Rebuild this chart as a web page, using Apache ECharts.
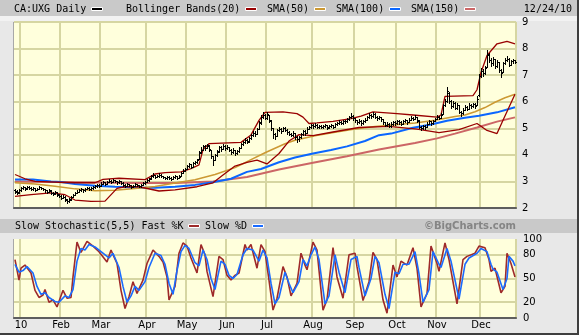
<!DOCTYPE html>
<html>
<head>
<meta charset="utf-8">
<title>CA:UXG Daily</title>
<script src="https://cdn.jsdelivr.net/npm/echarts@6.0.0/dist/echarts.min.js"></script>
<style>
  html, body { margin: 0; padding: 0; background: #e8e8e8; }
  #chart { width: 579px; height: 335px; }
</style>
</head>
<body>
<div id="chart"></div>
<script>
// ---- Calendar: trading sessions per month (Dec 2009 tail .. Dec 24 2010) ----
const monthLabels = ['', '10', 'Feb', 'Mar', 'Apr', 'May', 'Jun', 'Jul', 'Aug', 'Sep', 'Oct', 'Nov', 'Dec'];
const sessionsPerMonth = [3, 20, 20, 23, 20, 20, 20, 23, 21, 21, 20, 22, 18];

// ---- Axis ticks ----
const priceTicks = [2, 3, 4, 5, 6, 7, 8, 9];
const stochLabels = [0, 20, 50, 80, 100];
const stochGrid = [20, 50, 80];

// ---- Daily price bars (one entry per session) ----
const opens = [
  2.66,2.64,2.60,2.68,2.76,2.78,2.74,2.80,2.74,2.70,
  2.74,2.68,2.72,2.78,2.74,2.70,2.66,2.62,2.64,2.58,
  2.54,2.60,2.50,2.44,2.38,2.42,2.30,2.26,2.32,2.42,
  2.50,2.58,2.62,2.66,2.70,2.66,2.72,2.76,2.70,2.74,
  2.78,2.82,2.88,2.84,2.92,2.96,2.92,2.98,3.02,2.98,
  3.04,3.00,2.96,3.00,2.94,2.88,2.84,2.90,2.86,2.80,
  2.84,2.90,2.86,2.82,2.88,2.94,2.98,3.04,3.12,3.20,
  3.24,3.18,3.22,3.26,3.20,3.16,3.12,3.18,3.14,3.10,
  3.16,3.20,3.14,3.20,3.32,3.40,3.48,3.58,3.64,3.56,
  3.68,3.72,3.86,4.10,4.20,4.32,4.26,4.34,4.18,3.94,
  3.82,3.98,4.14,4.28,4.22,4.34,4.26,4.30,4.20,4.10,
  4.18,4.06,4.14,4.26,4.40,4.48,4.56,4.52,4.62,4.74,
  4.82,4.80,4.98,5.22,5.42,5.50,5.40,5.50,5.28,5.00,
  4.80,4.72,4.92,4.98,4.88,5.00,4.94,4.86,4.78,4.76,
  4.82,4.66,4.58,4.66,4.78,4.88,4.84,4.98,5.04,5.12,
  5.08,5.14,5.06,5.10,5.04,5.08,5.12,5.04,5.08,5.12,
  5.06,5.16,5.20,5.24,5.20,5.28,5.26,5.34,5.42,5.46,
  5.38,5.30,5.24,5.28,5.20,5.26,5.32,5.42,5.50,5.46,
  5.54,5.44,5.38,5.42,5.34,5.22,5.14,5.18,5.10,5.16,
  5.24,5.20,5.28,5.22,5.18,5.26,5.30,5.24,5.32,5.40,
  5.36,5.44,5.28,5.06,5.00,5.10,5.06,5.18,5.26,5.20,
  5.28,5.36,5.44,5.40,5.54,5.88,6.04,6.34,6.02,5.84,
  5.96,5.78,5.86,5.62,5.56,5.70,5.80,5.74,5.88,5.82,
  5.90,5.86,6.24,6.98,7.16,7.08,7.32,7.76,7.56,7.44,
  7.60,7.36,7.48,7.20,7.12,7.44,7.58,7.62,7.40,7.52,
  7.56
];
const highs = [
  2.70,2.66,2.70,2.78,2.84,2.80,2.84,2.82,2.78,2.78,
  2.76,2.76,2.82,2.80,2.76,2.72,2.68,2.70,2.66,2.62,
  2.64,2.60,2.54,2.48,2.48,2.44,2.34,2.36,2.44,2.54,
  2.62,2.68,2.70,2.76,2.72,2.76,2.80,2.78,2.78,2.82,
  2.86,2.92,2.90,2.96,3.00,2.98,3.02,3.08,3.04,3.08,
  3.06,3.02,3.06,3.02,2.96,2.90,2.94,2.92,2.88,2.88,
  2.94,2.92,2.88,2.92,2.98,3.02,3.08,3.14,3.24,3.30,
  3.26,3.26,3.30,3.28,3.22,3.18,3.22,3.20,3.16,3.20,
  3.24,3.22,3.24,3.36,3.46,3.52,3.62,3.70,3.66,3.72,
  3.78,3.86,4.14,4.28,4.38,4.36,4.42,4.36,4.20,3.96,
  4.04,4.18,4.32,4.32,4.40,4.36,4.36,4.30,4.22,4.24,
  4.18,4.20,4.28,4.44,4.54,4.62,4.60,4.66,4.80,4.88,
  4.88,5.02,5.26,5.50,5.62,5.54,5.60,5.50,5.30,5.02,
  4.84,4.98,5.04,5.00,5.06,5.04,4.96,4.90,4.84,4.88,
  4.84,4.70,4.72,4.84,4.94,4.92,5.04,5.10,5.18,5.16,
  5.20,5.16,5.14,5.12,5.12,5.16,5.12,5.12,5.16,5.14,
  5.20,5.24,5.30,5.28,5.32,5.32,5.40,5.48,5.56,5.50,
  5.40,5.32,5.34,5.30,5.30,5.38,5.48,5.58,5.54,5.60,
  5.56,5.46,5.48,5.44,5.36,5.24,5.24,5.20,5.22,5.28,
  5.28,5.32,5.30,5.26,5.30,5.36,5.32,5.38,5.46,5.44,
  5.50,5.44,5.30,5.10,5.14,5.12,5.22,5.30,5.28,5.32,
  5.40,5.50,5.48,5.56,5.92,6.10,6.56,6.36,6.06,6.02,
  5.98,5.94,5.88,5.66,5.76,5.86,5.84,5.94,5.92,5.96,
  5.94,6.20,7.06,7.28,7.22,7.36,7.96,7.82,7.64,7.70,
  7.62,7.56,7.48,7.24,7.50,7.66,7.72,7.64,7.58,7.62,
  7.58
];
const lows = [
  2.56,2.54,2.58,2.64,2.72,2.68,2.72,2.72,2.66,2.68,
  2.64,2.66,2.70,2.70,2.66,2.62,2.58,2.60,2.54,2.50,
  2.52,2.46,2.40,2.34,2.36,2.28,2.18,2.22,2.30,2.40,
  2.48,2.56,2.60,2.64,2.62,2.64,2.70,2.66,2.68,2.72,
  2.76,2.80,2.80,2.84,2.90,2.86,2.90,2.96,2.94,2.96,
  2.96,2.92,2.94,2.90,2.84,2.80,2.82,2.82,2.76,2.78,
  2.82,2.82,2.78,2.80,2.86,2.92,2.96,3.02,3.10,3.16,
  3.14,3.16,3.18,3.16,3.12,3.08,3.10,3.10,3.04,3.08,
  3.14,3.10,3.12,3.20,3.30,3.38,3.46,3.56,3.50,3.54,
  3.64,3.70,3.84,4.06,4.18,4.20,4.24,4.16,3.88,3.62,
  3.80,3.96,4.12,4.16,4.22,4.20,4.22,4.14,4.04,4.08,
  4.00,4.04,4.12,4.24,4.38,4.46,4.44,4.50,4.60,4.72,
  4.72,4.78,4.96,5.18,5.38,5.34,5.36,5.24,4.94,4.62,
  4.58,4.70,4.88,4.82,4.88,4.88,4.80,4.74,4.70,4.72,
  4.60,4.50,4.54,4.64,4.76,4.76,4.82,4.96,5.02,5.02,
  5.06,5.00,5.02,5.00,5.00,5.04,4.98,5.00,5.04,5.02,
  5.04,5.12,5.16,5.16,5.18,5.20,5.24,5.32,5.40,5.32,
  5.24,5.18,5.20,5.14,5.16,5.22,5.30,5.40,5.40,5.42,
  5.38,5.32,5.34,5.28,5.16,5.08,5.10,5.04,5.06,5.12,
  5.14,5.18,5.16,5.12,5.16,5.22,5.18,5.22,5.30,5.30,
  5.34,5.24,5.00,4.92,4.98,4.98,5.04,5.16,5.14,5.18,
  5.26,5.34,5.34,5.38,5.52,5.84,6.00,5.96,5.76,5.80,
  5.72,5.74,5.56,5.48,5.54,5.68,5.68,5.74,5.76,5.80,
  5.78,5.86,6.20,6.92,6.98,7.04,7.30,7.48,7.34,7.40,
  7.28,7.32,7.10,6.94,7.10,7.42,7.52,7.34,7.38,7.46,
  7.44
];
const closes = [
  2.62,2.58,2.66,2.74,2.78,2.72,2.80,2.76,2.70,2.74,
  2.68,2.72,2.78,2.75,2.70,2.66,2.62,2.66,2.58,2.55,
  2.60,2.52,2.45,2.38,2.42,2.32,2.25,2.30,2.40,2.50,
  2.58,2.62,2.66,2.70,2.66,2.72,2.76,2.70,2.74,2.78,
  2.82,2.88,2.84,2.92,2.96,2.90,2.98,3.02,2.98,3.04,
  3.00,2.96,3.02,2.94,2.88,2.84,2.90,2.86,2.80,2.84,
  2.90,2.86,2.82,2.88,2.94,2.98,3.04,3.10,3.20,3.24,
  3.18,3.22,3.26,3.20,3.16,3.12,3.18,3.14,3.10,3.16,
  3.20,3.14,3.18,3.32,3.40,3.46,3.58,3.64,3.56,3.68,
  3.72,3.80,4.08,4.20,4.32,4.26,4.36,4.22,3.95,3.80,
  3.98,4.12,4.28,4.22,4.34,4.26,4.30,4.20,4.10,4.18,
  4.06,4.14,4.24,4.40,4.48,4.56,4.50,4.62,4.74,4.82,
  4.78,4.96,5.20,5.42,5.50,5.40,5.52,5.30,5.00,4.80,
  4.70,4.92,4.98,4.88,5.00,4.94,4.86,4.80,4.76,4.84,
  4.66,4.58,4.66,4.78,4.88,4.82,4.98,5.04,5.12,5.08,
  5.14,5.06,5.10,5.04,5.08,5.12,5.02,5.08,5.12,5.06,
  5.16,5.20,5.24,5.20,5.28,5.26,5.34,5.42,5.48,5.38,
  5.30,5.24,5.28,5.20,5.26,5.32,5.42,5.50,5.46,5.54,
  5.44,5.38,5.42,5.34,5.22,5.14,5.18,5.10,5.16,5.24,
  5.20,5.28,5.22,5.18,5.26,5.30,5.24,5.32,5.40,5.36,
  5.44,5.30,5.06,5.00,5.10,5.04,5.18,5.26,5.20,5.28,
  5.36,5.44,5.40,5.50,5.86,6.02,6.42,6.04,5.84,5.96,
  5.78,5.88,5.62,5.56,5.70,5.80,5.74,5.88,5.82,5.90,
  5.84,6.12,6.96,7.16,7.08,7.26,7.78,7.56,7.44,7.60,
  7.36,7.50,7.20,7.08,7.44,7.58,7.62,7.40,7.52,7.56,
  7.48
];

// ---- Overlays: [session index, value] ----
const bbUpper = [[0,3.26],[5,3.10],[10,3.00],[22,2.97],[30,2.95],[40,2.95],[44,3.08],[52,3.12],[65,3.07],[70,3.28],[75,3.33],[83,3.36],[88,3.48],[92,3.62],[94,4.20],[97,4.42],[113,4.47],[118,4.75],[122,5.30],[125,5.60],[134,5.62],[141,5.55],[144,5.42],[147,5.18],[151,5.20],[159,5.26],[168,5.36],[173,5.46],[179,5.62],[191,5.55],[199,5.50],[211,5.42],[213,5.50],[215,6.20],[229,6.23],[231,6.45],[233,7.10],[236,7.74],[241,8.18],[246,8.27],[250,8.18]];
const bbLower = [[0,2.44],[8,2.50],[18,2.57],[25,2.50],[30,2.30],[38,2.25],[45,2.26],[51,2.74],[55,2.80],[62,2.80],[72,2.64],[80,2.68],[91,2.80],[99,2.95],[104,3.24],[110,3.58],[116,3.72],[121,3.80],[126,3.66],[132,4.05],[137,4.52],[142,4.76],[149,4.72],[159,4.86],[172,5.03],[187,5.07],[201,4.97],[212,4.84],[222,4.95],[231,5.18],[236,4.92],[241,4.80],[244,5.30],[250,6.28]];
const sma50 = [[0,2.95],[10,2.90],[20,2.82],[30,2.72],[40,2.65],[50,2.67],[60,2.73],[70,2.81],[80,2.94],[90,3.06],[100,3.26],[110,3.52],[117,3.78],[125,4.08],[130,4.25],[135,4.42],[140,4.55],[150,4.72],[160,4.85],[170,4.97],[180,5.07],[190,5.13],[200,5.20],[210,5.30],[220,5.44],[225,5.50],[230,5.62],[235,5.78],[240,5.98],[245,6.15],[250,6.28]];
const sma100 = [[0,3.07],[9,3.07],[18,3.00],[23,2.98],[30,2.90],[40,2.84],[50,2.80],[60,2.77],[70,2.76],[80,2.80],[90,2.87],[99,2.97],[108,3.10],[116,3.36],[123,3.47],[132,3.72],[140,3.90],[149,4.05],[158,4.18],[166,4.32],[175,4.52],[182,4.74],[188,4.80],[199,5.02],[208,5.14],[216,5.28],[225,5.40],[232,5.47],[241,5.60],[250,5.79]];
const sma150 = [[0,3.00],[20,2.98],[40,2.96],[60,2.94],[80,2.94],[99,3.00],[116,3.17],[132,3.45],[149,3.70],[166,3.95],[182,4.20],[200,4.45],[211,4.62],[220,4.80],[231,5.03],[241,5.25],[250,5.41]];

// ---- Slow stochastic (5,5) ----
const fastK = [[0,74],[2,48],[3,63],[5,67],[8,57],[10,35],[12,26],[14,29],[15,36],[17,20],[19,23],[21,14],[24,35],[26,25],[28,26],[29,52],[31,96],[33,83],[34,84],[36,97],[39,91],[42,84],[46,71],[48,86],[51,69],[53,35],[55,12],[57,27],[59,46],[61,31],[62,37],[64,48],[66,69],[69,86],[72,78],[74,71],[76,52],[77,23],[80,40],[82,82],[84,95],[86,91],[88,76],[91,57],[93,93],[95,80],[96,59],[99,27],[102,78],[104,74],[106,54],[108,48],[110,54],[112,57],[115,93],[116,86],[118,93],[121,63],[123,93],[125,84],[127,48],[129,10],[131,25],[134,65],[136,52],[138,28],[141,44],[143,82],[145,67],[146,61],[149,96],[151,86],[154,10],[156,23],[159,89],[161,52],[164,25],[167,80],[170,82],[171,65],[174,22],[177,46],[179,83],[181,74],[184,23],[186,6],[189,67],[191,52],[193,72],[196,67],[199,89],[201,63],[203,14],[206,31],[208,91],[211,69],[212,59],[215,95],[217,74],[221,18],[224,74],[226,78],[230,82],[232,91],[235,89],[237,74],[238,59],[240,63],[243,32],[245,40],[246,82],[248,69],[250,52]];
const slowD = [[0,68],[2,58],[4,60],[6,65],[9,57],[11,40],[13,30],[15,32],[17,26],[20,21],[22,20],[25,28],[27,26],[29,36],[31,72],[33,88],[35,86],[37,93],[40,90],[43,84],[47,76],[49,82],[52,64],[54,40],[56,20],[58,28],[60,40],[62,35],[65,46],[67,64],[70,82],[73,79],[75,68],[77,44],[79,30],[81,60],[83,84],[85,92],[87,88],[90,70],[92,66],[94,86],[96,74],[98,50],[100,36],[103,72],[105,68],[107,54],[109,50],[111,55],[114,80],[116,88],[119,86],[122,72],[124,86],[126,76],[128,44],[130,18],[132,26],[135,58],[137,44],[139,32],[142,46],[144,74],[146,66],[148,80],[150,90],[152,74],[155,18],[157,28],[160,80],[162,58],[165,32],[168,74],[171,78],[172,64],[175,28],[178,50],[180,78],[182,70],[185,30],[187,12],[190,58],[192,56],[194,68],[197,68],[200,84],[202,56],[204,20],[207,36],[209,84],[212,68],[213,64],[216,88],[218,72],[222,24],[225,68],[227,76],[231,82],[233,88],[236,84],[238,68],[239,62],[241,58],[244,36],[246,50],[247,78],[249,72],[250,66]];

// ---- Build session categories and month markers ----
const sessions = [];
const monthStartLabel = {};
monthLabels.forEach((label, m) => {
  for (let k = 0; k < sessionsPerMonth[m]; k++) {
    if (k === 0 && label) monthStartLabel[sessions.length] = label;
    sessions.push(m + '-' + (k + 1));
  }
});
const isMonthStart = (idx) => Object.prototype.hasOwnProperty.call(monthStartLabel, idx);

const bars = closes.map((c, i) => [i, opens[i], highs[i], lows[i], c]);

// ---- Styling ----
const plotBg = '#FFFFDC';
const gridColor = '#D6D6A2';
const stochTickValues = [];
for (let v = stochLabels[0]; v <= stochLabels[stochLabels.length - 1]; v += 10) stochTickValues.push(v);
const stochLineColors = stochTickValues.map(v => stochGrid.includes(v) ? gridColor : 'rgba(0,0,0,0)');

const monoFont = '10px "DejaVu Sans Mono"';
const labelFont = '10px "DejaVu Sans"';
const axisFont = { color: '#000', fontSize: 10, fontFamily: 'DejaVu Sans' };

const overlay = (data, color, width, idx, z) => ({
  type: 'line', xAxisIndex: idx, yAxisIndex: idx, data: data,
  showSymbol: false, symbol: 'none', silent: true, z: z,
  lineStyle: { color: color, width: width }
});

function headerText(x, y, text) {
  return { type: 'text', x: x, y: y, silent: true,
    style: { text: text, font: monoFont, fill: '#000', verticalAlign: 'middle', align: 'left' } };
}
function swatch(x, y, color) {
  return { type: 'rect', silent: true, shape: { x: x + 0.5, y: y + 0.5, width: 11, height: 3 },
    style: { fill: color, stroke: '#ffffff', lineWidth: 1 } };
}

// OHLC bar: high-low stem, open tick to the left, close tick to the right
function renderBar(params, api) {
  const i = api.value(0);
  const open = api.coord([i, api.value(1)]);
  const top = api.coord([i, api.value(2)]);
  const bottom = api.coord([i, api.value(3)]);
  const close = api.coord([i, api.value(4)]);
  const cx = Math.floor(top[0]) + 0.5;
  const oy = Math.round(open[1]) + 0.5;
  const cy = Math.round(close[1]) + 0.5;
  const stroke = { stroke: '#000', lineWidth: 1 };
  return {
    type: 'group',
    children: [
      { type: 'line', shape: { x1: cx, y1: Math.round(top[1]), x2: cx, y2: Math.round(bottom[1]) + 1 }, style: stroke },
      { type: 'line', shape: { x1: cx - 1.5, y1: oy, x2: cx, y2: oy }, style: stroke },
      { type: 'line', shape: { x1: cx, y1: cy, x2: cx + 1.5, y2: cy }, style: stroke }
    ]
  };
}

const frameGraphics = [
  // title bands
  { type: 'rect', silent: true, shape: { x: 0, y: 0, width: 577, height: 16 }, style: { fill: '#C9C9C9' } },
  { type: 'rect', silent: true, shape: { x: 0, y: 16, width: 577, height: 5 }, style: { fill: '#F2F2F2' } },
  { type: 'rect', silent: true, shape: { x: 0, y: 219, width: 577, height: 14 }, style: { fill: '#C9C9C9' } },
  // frame shadow on the right and bottom
  { type: 'rect', silent: true, shape: { x: 577, y: 0, width: 2, height: 335 }, style: { fill: '#3E3E3E' } },
  { type: 'rect', silent: true, shape: { x: 0, y: 333, width: 579, height: 2 }, style: { fill: '#3E3E3E' } },
  // plot side borders
  { type: 'line', silent: true, shape: { x1: 13.5, y1: 22, x2: 13.5, y2: 209 }, style: { stroke: '#A8A8A8', lineWidth: 1 } },
  { type: 'line', silent: true, shape: { x1: 516.5, y1: 22, x2: 516.5, y2: 209 }, style: { stroke: '#B4B4B4', lineWidth: 1 } },
  { type: 'line', silent: true, shape: { x1: 13.5, y1: 239, x2: 13.5, y2: 319 }, style: { stroke: '#A8A8A8', lineWidth: 1 } },
  { type: 'line', silent: true, shape: { x1: 516.5, y1: 239, x2: 516.5, y2: 319 }, style: { stroke: '#B4B4B4', lineWidth: 1 } },
  // price panel legend
  headerText(14, 9, 'CA:UXG Daily'),
  swatch(91, 7, '#000000'),
  headerText(126, 9, 'Bollinger Bands(20)'),
  swatch(245, 7, '#990000'),
  headerText(267, 9, 'SMA(50)'),
  swatch(314, 7, '#CC9933'),
  headerText(336, 9, 'SMA(100)'),
  swatch(389, 7, '#0A66FF'),
  headerText(411, 9, 'SMA(150)'),
  swatch(464, 7, '#CC6666'),
  { type: 'text', x: 572, y: 9, silent: true,
    style: { text: '12/24/10', font: monoFont, fill: '#000', verticalAlign: 'middle', align: 'right' } },
  // stochastic panel legend
  headerText(15, 226, 'Slow Stochastic(5,5) Fast %K'),
  swatch(188, 224, '#9E2A2A'),
  headerText(205, 226, 'Slow %D'),
  swatch(252, 224, '#1A6BFF'),
  { type: 'text', x: 516, y: 226, silent: true,
    style: { text: '\u00A9BigCharts.com', font: 'bold 10px "DejaVu Sans"', fill: '#858585', verticalAlign: 'middle', align: 'right' } }
];

const chart = echarts.init(document.getElementById('chart'), null, { renderer: 'canvas', devicePixelRatio: 1 });

chart.setOption({
  animation: false,
  backgroundColor: '#E8E8E8',
  grid: [
    { left: 14, right: 63, top: 22, bottom: 127, show: true, backgroundColor: plotBg, borderWidth: 0, outerBoundsMode: 'none', containLabel: false },
    { left: 14, right: 63, top: 239, bottom: 17, show: true, backgroundColor: plotBg, borderWidth: 0, outerBoundsMode: 'none', containLabel: false }
  ],
  xAxis: [
    {
      type: 'category', gridIndex: 0, data: sessions, boundaryGap: true,
      axisLine: { show: true, lineStyle: { color: '#5E5E5E', width: 2 } },
      axisTick: { show: false }, axisLabel: { show: false },
      splitLine: { show: true, interval: isMonthStart, lineStyle: { color: gridColor, width: 2 } }
    },
    {
      type: 'category', gridIndex: 1, data: sessions, boundaryGap: true,
      axisLine: { show: true, lineStyle: { color: '#5E5E5E', width: 2 } },
      axisTick: { show: false },
      axisLabel: Object.assign({ show: true, interval: isMonthStart, margin: 2,
        formatter: (v, idx) => monthStartLabel[idx] || '' }, axisFont),
      splitLine: { show: true, interval: isMonthStart, lineStyle: { color: gridColor, width: 2 } }
    }
  ],
  yAxis: [
    {
      type: 'value', gridIndex: 0, position: 'right',
      min: priceTicks[0], max: priceTicks[priceTicks.length - 1], interval: 1,
      axisLine: { show: false }, axisTick: { show: false },
      axisLabel: Object.assign({ margin: 6 }, axisFont),
      splitLine: { show: true, lineStyle: { color: gridColor, width: 2 } }
    },
    {
      type: 'value', gridIndex: 1, position: 'right',
      min: stochLabels[0], max: stochLabels[stochLabels.length - 1], interval: 10,
      axisLine: { show: false }, axisTick: { show: false },
      axisLabel: { show: false },
      splitLine: { show: true, lineStyle: { color: stochLineColors, width: 2 } }
    }
  ],
  series: [
    overlay(sma150, '#CC6666', 2, 0, 2),
    overlay(sma100, '#0A66FF', 2, 0, 3),
    overlay(sma50, '#CC9933', 1.5, 0, 4),
    overlay(bbLower, '#990000', 1.3, 0, 5),
    overlay(bbUpper, '#990000', 1.3, 0, 5),
    {
      type: 'custom', xAxisIndex: 0, yAxisIndex: 0, z: 8, silent: true,
      data: bars,
      encode: { x: 0, y: [1, 2, 3, 4] },
      renderItem: renderBar
    },
    overlay(fastK, '#9E2A2A', 1.6, 1, 4),
    overlay(slowD, '#1A6BFF', 1.6, 1, 5)
  ],
  graphic: frameGraphics
});

// Stochastic scale labels, placed on the axis scale once it is laid out
const stochLabelGraphics = stochLabels.map(v => ({
  type: 'text', silent: true, x: 523, y: chart.convertToPixel({ yAxisIndex: 1 }, v),
  style: { text: String(v), font: labelFont, fill: '#000', verticalAlign: 'middle', align: 'left' }
}));
chart.setOption({ graphic: frameGraphics.concat(stochLabelGraphics) });
</script>
</body>
</html>
